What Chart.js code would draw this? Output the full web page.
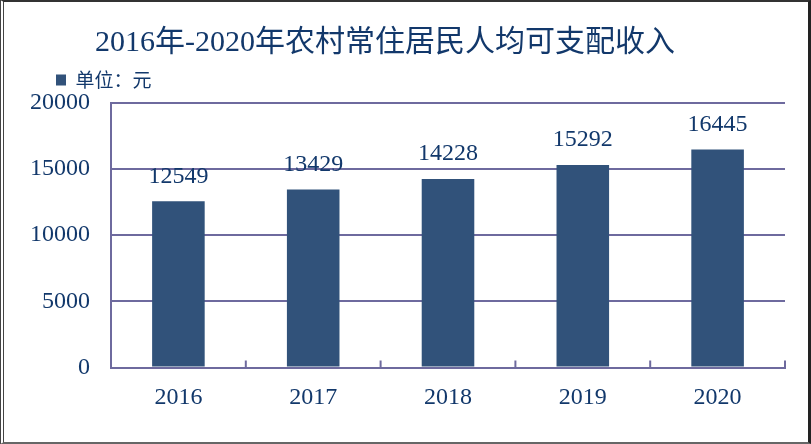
<!DOCTYPE html>
<html>
<head>
<meta charset="utf-8">
<script src="https://cdn.jsdelivr.net/npm/chart.js@4.4.1/dist/chart.umd.min.js"></script>
<style>
  html, body { margin: 0; padding: 0; background: #fff; }
  #wrap { position: relative; width: 811px; height: 444px; overflow: hidden; background: #fff; }
  #chart { position: absolute; left: 0; top: 0; width: 811px; height: 444px; }
  #title {
    position: absolute; left: 95px; top: 26px; margin: 0;
    font-family: "Liberation Serif", "Noto Sans CJK SC", serif;
    font-size: 30px; line-height: 30px; font-weight: normal;
    letter-spacing: 0px; color: #12386b; white-space: nowrap;
  }
  #frame {
    position: absolute; left: 0; top: 0; width: 811px; height: 444px; box-sizing: border-box;
    border-left: 4px double #444; border-top: 2px solid #333;
    border-right: 3px solid #222; border-bottom: 2px solid #666; pointer-events: none;
  }
</style>
</head>
<body>
<div id="wrap">
  <canvas id="chart" width="811" height="444"></canvas>
  <h1 id="title"></h1>
  <div id="frame"></div>
</div>
<script>
const chartTitle = '2016年-2020年农村常住居民人均可支配收入';
const seriesLabel = '单位：元';
const categories = ['2016', '2017', '2018', '2019', '2020'];
const incomeValues = [12549, 13429, 14228, 15292, 16445];
const yTickValues = [0, 5000, 10000, 15000, 20000];

document.getElementById('title').textContent = chartTitle;

const TEXT_COLOR = '#12386b';
const BAR_COLOR = '#31527a';
const LINE_COLOR = '#6e6a9e';
const NUM_FONT = '"Liberation Serif", "DejaVu Serif", serif';

const legendPlacement = {
  id: 'legendPlacement',
  afterInit(chart) {
    const lg = chart.legend;
    if (!lg) return;
    const orig = lg.fit.bind(lg);
    lg.fit = function () { orig(); this.height = 42; };
  },
  afterLayout(chart) {
    if (chart.legend) chart.legend.left = 46;
  }
};

const valueLabels = {
  id: 'valueLabels',
  afterDatasetsDraw(chart) {
    const ctx = chart.ctx;
    const meta = chart.getDatasetMeta(0);
    ctx.save();
    ctx.font = '24px ' + NUM_FONT;
    ctx.fillStyle = TEXT_COLOR;
    ctx.textAlign = 'center';
    ctx.textBaseline = 'middle';
    meta.data.forEach((bar, i) => {
      ctx.fillText(String(incomeValues[i]), bar.x, bar.y - 25);
    });
    ctx.restore();
  }
};

const innerTicks = {
  id: 'innerTicks',
  afterDraw(chart) {
    const xs = chart.scales.x;
    const ctx = chart.ctx;
    const bottom = chart.chartArea.bottom;
    ctx.save();
    ctx.strokeStyle = LINE_COLOR;
    ctx.lineWidth = 2;
    for (let i = 0; i <= categories.length; i++) {
      const px = xs.getPixelForValue(i - 0.5);
      ctx.beginPath();
      ctx.moveTo(px, bottom);
      ctx.lineTo(px, bottom - 7);
      ctx.stroke();
    }
    ctx.restore();
  }
};

new Chart(document.getElementById('chart'), {
  type: 'bar',
  data: {
    labels: categories,
    datasets: [{
      label: seriesLabel,
      data: incomeValues,
      backgroundColor: BAR_COLOR,
      borderWidth: 0,
      categoryPercentage: 1,
      barPercentage: 0.39
    }]
  },
  options: {
    responsive: false,
    animation: false,
    devicePixelRatio: 1,
    layout: { padding: { left: 0, right: 26, top: 60.5, bottom: 0 } },
    plugins: {
      title: { display: false },
      tooltip: { enabled: false },
      legend: {
        display: true,
        position: 'top',
        align: 'start',
        labels: {
          boxWidth: 10,
          boxHeight: 11,
          padding: 10,
          color: TEXT_COLOR,
          font: { family: '"Noto Sans CJK SC", sans-serif', size: 19 }
        }
      }
    },
    scales: {
      x: {
        afterFit(s) { s.height = 76.5; },
        grid: { display: true, drawOnChartArea: false, drawTicks: false, offset: true },
        border: { display: true, color: LINE_COLOR, width: 2 },
        ticks: { color: TEXT_COLOR, padding: 16, font: { family: NUM_FONT, size: 24 }, maxRotation: 0 }
      },
      y: {
        min: 0,
        max: 20000,
        afterFit(s) { s.width = 111; },
        afterBuildTicks(s) { s.ticks = yTickValues.map(v => ({ value: v })); },
        grid: { color: LINE_COLOR, lineWidth: 2, drawTicks: false },
        border: { display: true, color: LINE_COLOR, width: 2 },
        ticks: {
          color: TEXT_COLOR, padding: 21, font: { family: NUM_FONT, size: 24 },
          callback: (v) => String(v)
        }
      }
    }
  },
  plugins: [legendPlacement, valueLabels, innerTicks]
});
</script>
</body>
</html>
